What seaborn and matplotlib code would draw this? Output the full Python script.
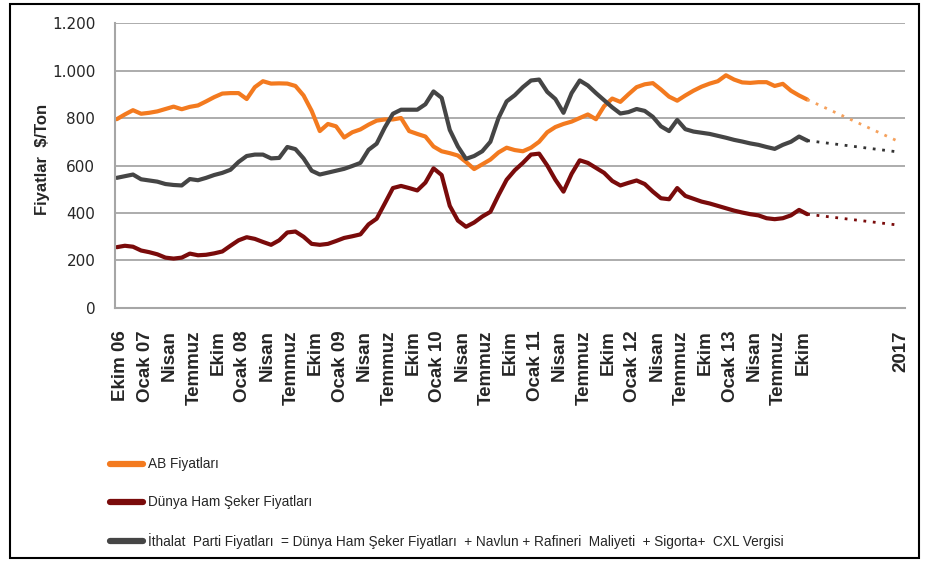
import numpy as np
import pandas as pd
import matplotlib
matplotlib.use("Agg")
import matplotlib.pyplot as plt
import seaborn as sns
from matplotlib.patches import Rectangle
from matplotlib.ticker import FuncFormatter, MultipleLocator

# Aylik fiyatlar ($/ton), Ekim 2006 - Kasim 2013
ab_fiyat = [795, 815, 833, 818, 822, 828, 838, 848, 837, 847,
            853, 870, 888, 903, 905, 905, 880, 930, 955, 945,
            946, 945, 935, 895, 830, 745, 775, 765, 718, 740,
            752, 772, 789, 794, 794, 800, 745, 733, 722, 680,
            660, 652, 642, 615, 585, 605, 625, 655, 675, 665,
            660, 675, 700, 740, 762, 775, 785, 800, 815, 795,
            850, 882, 868, 900, 930, 942, 947, 920, 890, 873,
            895, 915, 932, 945, 955, 980, 962, 950, 948, 951,
            951, 935, 944, 915, 895, 878]
dunya_fiyat = [256, 262, 258, 242, 235, 226, 212, 208, 212, 229,
               222, 224, 230, 238, 262, 285, 298, 291, 278, 266,
               285, 318, 322, 300, 270, 266, 270, 282, 295, 302,
               310, 352, 376, 440, 505, 514, 505, 495, 528, 588,
               560, 430, 368, 342, 360, 385, 405, 475, 540, 580,
               611, 646, 650, 600, 540, 490, 565, 622, 611, 590,
               569, 535, 516, 527, 537, 522, 490, 462, 458, 505,
               472, 460, 448, 440, 430, 420, 410, 402, 395, 390,
               378, 374, 378, 390, 413, 395]
ithalat_fiyat = [548, 555, 562, 542, 537, 532, 522, 518, 516, 543,
                 538, 548, 560, 569, 582, 615, 640, 646, 646, 630,
                 632, 678, 669, 630, 578, 562, 570, 578, 586, 598,
                 611, 666, 692, 760, 818, 835, 835, 835, 858, 912,
                 885, 750, 680, 628, 640, 660, 700, 800, 870, 896,
                 930, 958, 962, 910, 880, 822, 905, 958, 937, 905,
                 875, 845, 819, 825, 838, 830, 805, 765, 745, 792,
                 753, 743, 738, 733, 725, 717, 708, 701, 693, 687,
                 678, 670, 687, 700, 722, 705]

# 2017 projeksiyonu (son veri -> 2017)
proj_ay = [85, 96]
ab_proj = [878, 705]
dunya_proj = [395, 350]
ithalat_proj = [705, 658]

x_labels = ["Ekim 06", "Ocak 07", "Nisan", "Temmuz", "Ekim", "Ocak 08", "Nisan", "Temmuz",
            "Ekim", "Ocak 09", "Nisan", "Temmuz", "Ekim", "Ocak 10", "Nisan", "Temmuz",
            "Ekim", "Ocak 11", "Nisan", "Temmuz", "Ekim", "Ocak 12", "Nisan", "Temmuz",
            "Ekim", "Ocak 13", "Nisan", "Temmuz", "Ekim", "2017"]
x_label_pos = [3 * k + 0.5 for k in range(29)] + [96.5]

series_names = ["AB Fiyatları", "Dünya Ham Şeker Fiyatları",
                "İthalat  Parti Fiyatları  = Dünya Ham Şeker Fiyatları  + Navlun + Rafineri  Maliyeti  + Sigorta+  CXL Vergisi"]
colors = ["#F37A1F", "#7A0B0B", "#454545"]
proj_colors = ["#F5A15C", "#7A0B0B", "#333333"]

df = pd.DataFrame({"ay": np.arange(len(ab_fiyat)),
                   series_names[0]: ab_fiyat,
                   series_names[1]: dunya_fiyat,
                   series_names[2]: ithalat_fiyat})
proj = pd.DataFrame({"ay": proj_ay,
                     series_names[0]: ab_proj,
                     series_names[1]: dunya_proj,
                     series_names[2]: ithalat_proj})

sns.set_style("white")
plt.rcParams["font.family"] = ["Liberation Sans", "DejaVu Sans"]

fig = plt.figure(figsize=(9.25, 5.62), dpi=100)
ax = fig.add_axes([0.124, 0.452, 0.854, 0.507])

for name, c, pc in zip(series_names, colors, proj_colors):
    sns.lineplot(data=df, x="ay", y=name, color=c, linewidth=3.0, ax=ax, label=name)
    sns.lineplot(data=proj, x="ay", y=name, color=pc, linewidth=2.0,
                 linestyle=(0, (1, 2.4)), ax=ax, legend=False)

ax.set_xlim(-0.25, 97)
ax.set_ylim(0, 1200)
ax.yaxis.set_major_locator(MultipleLocator(200))
ax.yaxis.set_major_formatter(FuncFormatter(lambda v, p: f"{int(v):,}".replace(",", ".")))
ax.grid(axis="y", color="#A6A6A6", linewidth=1.3)
ax.set_axisbelow(True)

ax.set_xticks(x_label_pos)
ax.set_xticklabels(x_labels, rotation=90, fontsize=13.5, fontweight="bold",
                   va="top", ha="center")
ax.set_xticks(np.arange(0, 97, 1), minor=True)
ax.tick_params(axis="x", which="major", length=0, pad=16)
ax.tick_params(axis="x", which="minor", length=4, color="#A6A6A6", width=1, direction="out")
ax.tick_params(axis="y", length=0, pad=14, labelsize=11, labelcolor="#262626")
for lbl in ax.get_yticklabels():
    lbl.set_family("DejaVu Sans")

for side in ["top", "right"]:
    ax.spines[side].set_visible(False)
for side in ["left", "bottom"]:
    ax.spines[side].set_color("#A6A6A6")
    ax.spines[side].set_linewidth(1.5)

ax.set_xlabel("")
ax.set_ylabel("Fiyatlar  $/Ton", fontsize=12, fontweight="bold")
ax.yaxis.set_label_coords(-0.082, 0.52)

leg = ax.legend(loc="upper left", bbox_to_anchor=(0.119, 0.186), bbox_transform=fig.transFigure,
                frameon=False, fontsize=9.8, labelspacing=1.75, handlelength=2.4,
                handletextpad=0.4, borderpad=0, borderaxespad=0)
for line in leg.get_lines():
    line.set_linewidth(4.5)

fig.add_artist(Rectangle((0.011, 0.007), 0.982, 0.986, transform=fig.transFigure,
                         fill=False, edgecolor="black", linewidth=1.5))

fig.savefig("out.png", dpi=100)
